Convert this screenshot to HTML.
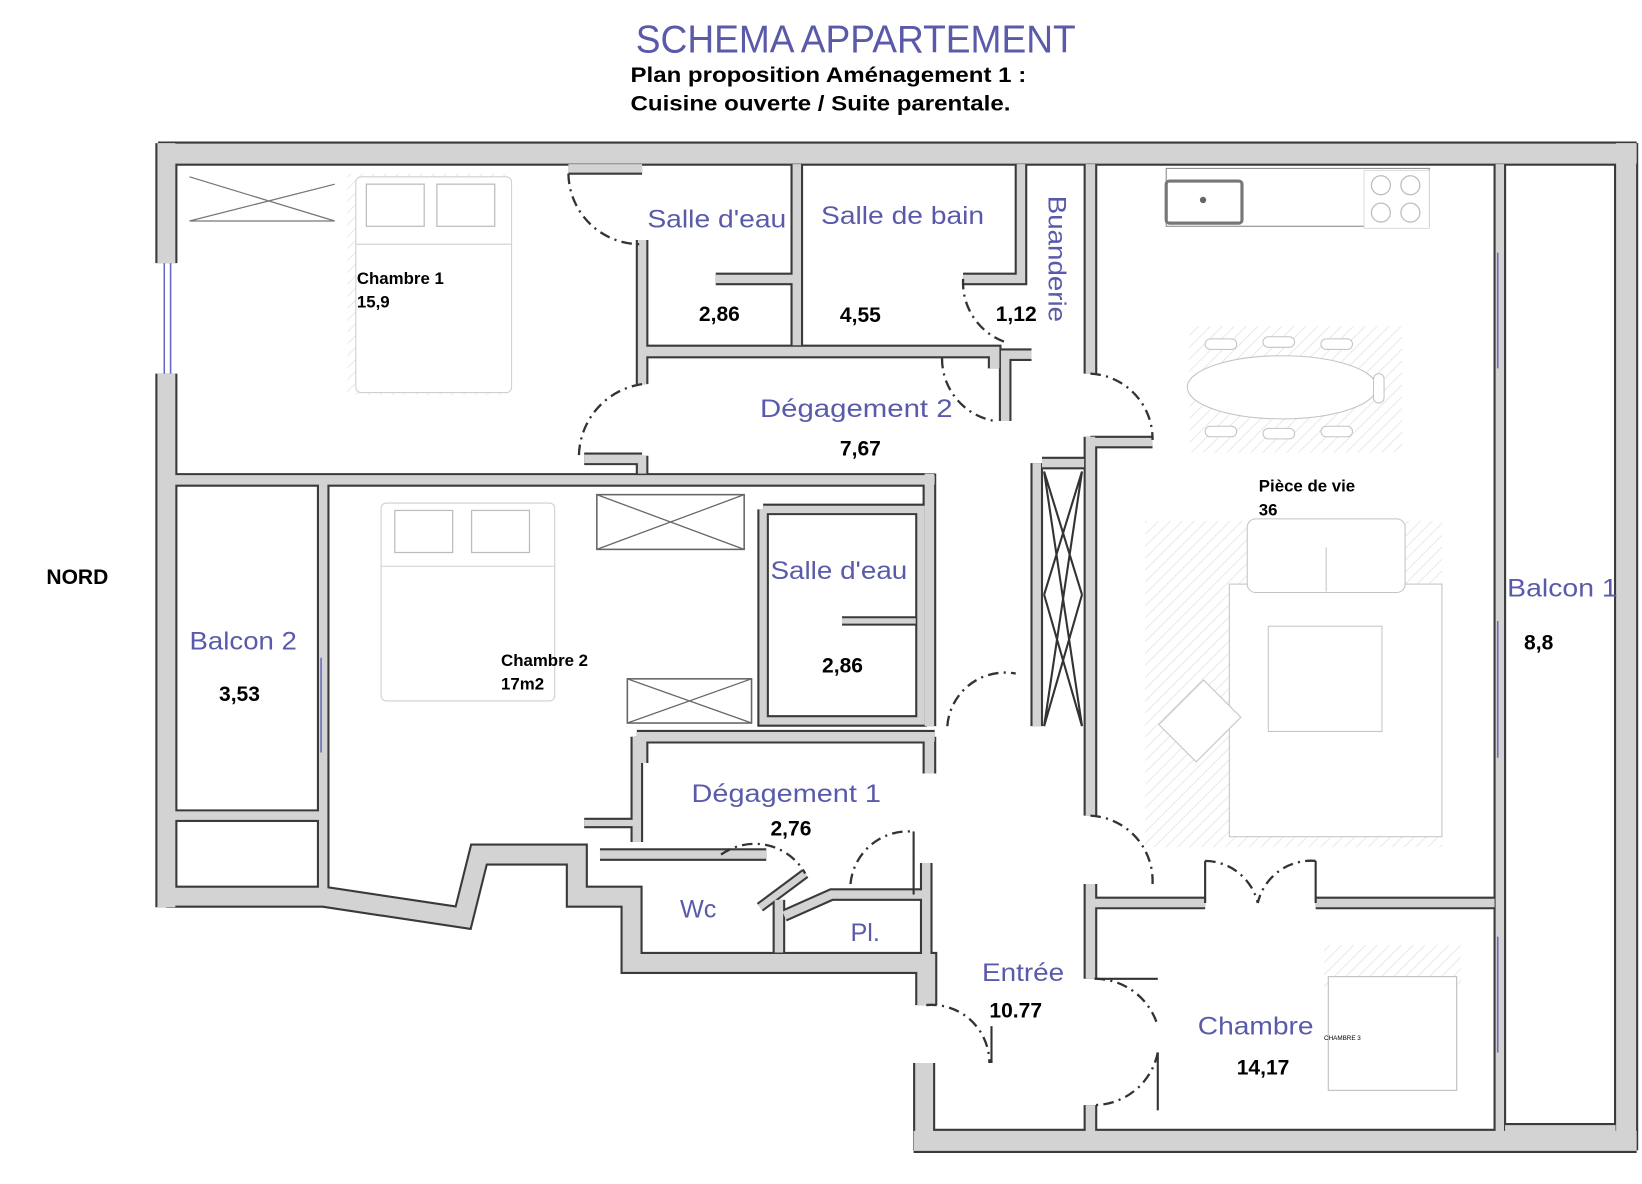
<!DOCTYPE html>
<html><head><meta charset="utf-8"><style>
html,body{margin:0;padding:0;background:#fff;}
svg{display:block;}
text{font-family:"Liberation Sans",Arial,sans-serif;}
.w{fill:none;stroke:#3a3a3a;stroke-linejoin:miter;stroke-linecap:butt;}
.g{fill:none;stroke:#d3d3d3;stroke-linejoin:miter;stroke-linecap:butt;}
.d{fill:none;stroke:#333;stroke-width:2.2;stroke-dasharray:10 5 2 5;}
.f{fill:none;stroke:#bdbdbd;stroke-width:1.2;}
.bl{fill:#5a5aaa;font-size:24px;}
.bk{fill:#000;font-weight:bold;}
</style></head><body>
<svg width="1642" height="1184" viewBox="0 0 1560 1125" xmlns="http://www.w3.org/2000/svg">
<defs>
<pattern id="h" width="8" height="8" patternUnits="userSpaceOnUse" patternTransform="rotate(45)"><line x1="0" y1="0" x2="0" y2="8" stroke="#e2e2e2" stroke-width="1.5"/></pattern>
</defs>
<text x="604" y="50" font-size="37" fill="#5a5aa8" textLength="418" lengthAdjust="spacingAndGlyphs">SCHEMA APPARTEMENT</text>
<text x="599" y="78" class="bk" font-size="20" textLength="376" lengthAdjust="spacingAndGlyphs">Plan proposition Aménagement 1 :</text>
<text x="599" y="105" class="bk" font-size="20" textLength="361" lengthAdjust="spacingAndGlyphs">Cuisine ouverte / Suite parentale.</text>
<text x="44" y="555" class="bk" font-size="20">NORD</text>

<rect x="1130" y="310" width="202" height="120" fill="url(#h)"/>
<rect x="1088" y="495" width="282" height="310" fill="url(#h)"/>
<rect x="1168" y="555" width="202" height="240" fill="#fff" stroke="#c4c4c4"/>
<rect x="1205" y="595" width="108" height="100" fill="#fff" stroke="#c4c4c4"/>
<rect x="1185" y="493" width="150" height="70" rx="8" fill="#fff" stroke="#c4c4c4"/>
<line x1="1260" y1="520" x2="1260" y2="562" stroke="#c4c4c4"/>
<g transform="rotate(-45 1140 685)"><rect x="1110" y="660" width="60" height="50" fill="#fff" stroke="#c4c4c4"/></g>
<ellipse cx="1218" cy="368" rx="90" ry="30" fill="#fff" stroke="#c4c4c4"/>
<g fill="#fff" stroke="#c4c4c4"><rect x="1145" y="322" width="30" height="10" rx="5"/><rect x="1200" y="320" width="30" height="10" rx="5"/><rect x="1255" y="322" width="30" height="10" rx="5"/><rect x="1145" y="405" width="30" height="10" rx="5"/><rect x="1200" y="407" width="30" height="10" rx="5"/><rect x="1255" y="405" width="30" height="10" rx="5"/><rect x="1305" y="355" width="10" height="28" rx="5"/></g>
<rect x="1108" y="160" width="250" height="55" fill="#fff" stroke="#888"/>
<rect x="1108" y="172" width="72" height="40" rx="3" fill="#fff" stroke="#777" stroke-width="3"/>
<circle cx="1143" cy="190" r="3" fill="#666"/>
<rect x="1296" y="162" width="62" height="55" fill="#fff" stroke="#ddd"/>
<circle cx="1312" cy="176" r="9" class="f"/><circle cx="1340" cy="176" r="9" class="f"/>
<circle cx="1312" cy="202" r="9" class="f"/><circle cx="1340" cy="202" r="9" class="f"/>
<rect x="330" y="165" width="155" height="210" fill="url(#h)"/>
<rect x="338" y="168" width="148" height="205" rx="5" fill="#fff" stroke="#cfcfcf"/>
<line x1="338" y1="232" x2="486" y2="232" stroke="#cfcfcf"/>
<rect x="348" y="175" width="55" height="40" class="f"/><rect x="415" y="175" width="55" height="40" class="f"/>
<path d="M180 168 L318 210 M180 210 L318 175 M180 210 L318 210" stroke="#777" stroke-width="1.2" fill="none"/>
<rect x="362" y="478" width="165" height="188" rx="5" fill="#fff" stroke="#cfcfcf"/>
<line x1="362" y1="538" x2="527" y2="538" stroke="#cfcfcf"/>
<rect x="375" y="485" width="55" height="40" class="f"/><rect x="448" y="485" width="55" height="40" class="f"/>
<rect x="567" y="470" width="140" height="52" fill="#fff" stroke="#666" stroke-width="1.5"/>
<path d="M567 470 L707 522 M567 522 L707 470" stroke="#666" stroke-width="1.2"/>
<rect x="596" y="645" width="118" height="42" fill="#fff" stroke="#666" stroke-width="1.5"/>
<path d="M596 645 L714 687 M596 687 L714 645" stroke="#666" stroke-width="1.2"/>
<path d="M992 448 L1028 690 M1028 448 L992 690 M992 448 L1028 565 M1028 448 L992 565 M992 565 L1028 690 M1028 565 L992 690" stroke="#333" stroke-width="2" fill="none"/>
<rect x="1258" y="898" width="130" height="40" fill="url(#h)"/>
<rect x="1262" y="928" width="122" height="108" fill="#fff" stroke="#bbb"/>
<text x="1258" y="988" font-size="6">CHAMBRE 3</text>

<g>
<polyline class="w" stroke-width="23" points="150,146 1555,146"/>
<polyline class="w" stroke-width="21" points="158,136 158,250"/>
<polyline class="w" stroke-width="21" points="158,355 158,862"/>
<polyline class="w" stroke-width="23" points="1545,136 1545,1093"/>
<polyline class="w" stroke-width="23" points="868,1084 1555,1084"/>
<polyline class="w" stroke-width="21" points="878,1010 878,1093"/>
<polyline class="w" stroke-width="21" points="158,852 307,852 440,872 455,812 548,812 548,852 600,852 600,915 880,915 880,955"/>
<polyline class="w" stroke-width="13" points="158,456 888,456"/>
<polyline class="w" stroke-width="12" points="307,456 307,852"/>
<polyline class="w" stroke-width="12" points="158,775 307,775"/>
<polyline class="w" stroke-width="13" points="883,450 883,690"/>
<polyline class="w" stroke-width="13" points="883,700 883,735"/>
<polyline class="w" stroke-width="13" points="605,700 888,700"/>
<polyline class="w" stroke-width="12" points="610,700 610,725"/>
<polyline class="w" stroke-width="11" points="725,484 875,484 875,685 725,685 725,484"/>
<polyline class="w" stroke-width="9" points="800,590 870,590"/>
<polyline class="w" stroke-width="12" points="985,440 985,690"/>
<polyline class="w" stroke-width="12" points="990,440 1030,440"/>
<polyline class="w" stroke-width="12" points="610,228 610,365"/>
<polyline class="w" stroke-width="12" points="610,433 610,450"/>
<polyline class="w" stroke-width="12" points="540,160 610,160"/>
<polyline class="w" stroke-width="12" points="555,436 610,436"/>
<polyline class="w" stroke-width="13" points="610,334 945,334 945,350"/>
<polyline class="w" stroke-width="12" points="757,156 757,328"/>
<polyline class="w" stroke-width="12" points="680,265 757,265"/>
<polyline class="w" stroke-width="12" points="970,156 970,265 915,265"/>
<polyline class="w" stroke-width="12" points="955,400 955,337 980,337"/>
<polyline class="w" stroke-width="13" points="1036,156 1036,355"/>
<polyline class="w" stroke-width="12" points="1036,420 1095,420"/>
<polyline class="w" stroke-width="13" points="1036,415 1036,775"/>
<polyline class="w" stroke-width="13" points="1036,840 1036,930"/>
<polyline class="w" stroke-width="13" points="1036,1050 1036,1080"/>
<polyline class="w" stroke-width="12" points="1036,858 1145,858"/>
<polyline class="w" stroke-width="12" points="1250,858 1420,858"/>
<polyline class="w" stroke-width="12" points="1425,156 1425,1075"/>
<polyline class="w" stroke-width="10" points="1430,1072 1535,1072"/>
<polyline class="w" stroke-width="12" points="605,700 605,800"/>
<polyline class="w" stroke-width="10" points="555,782 605,782"/>
<polyline class="w" stroke-width="12" points="570,812 728,812"/>
<polyline class="w" stroke-width="12" points="740,855 740,905"/>
<polyline class="w" stroke-width="12" points="745,870 790,850 880,850"/>
<polyline class="w" stroke-width="12" points="880,820 880,915"/>
<polyline class="w" stroke-width="10" points="722,862 765,830"/>
</g>
<g>
<polyline class="g" stroke-width="19" points="150,146 1555,146"/>
<polyline class="g" stroke-width="17" points="158,136 158,250"/>
<polyline class="g" stroke-width="17" points="158,355 158,862"/>
<polyline class="g" stroke-width="19" points="1545,136 1545,1093"/>
<polyline class="g" stroke-width="19" points="868,1084 1555,1084"/>
<polyline class="g" stroke-width="17" points="878,1010 878,1093"/>
<polyline class="g" stroke-width="17" points="158,852 307,852 440,872 455,812 548,812 548,852 600,852 600,915 880,915 880,955"/>
<polyline class="g" stroke-width="9" points="158,456 888,456"/>
<polyline class="g" stroke-width="8" points="307,456 307,852"/>
<polyline class="g" stroke-width="8" points="158,775 307,775"/>
<polyline class="g" stroke-width="9" points="883,450 883,690"/>
<polyline class="g" stroke-width="9" points="883,700 883,735"/>
<polyline class="g" stroke-width="9" points="605,700 888,700"/>
<polyline class="g" stroke-width="8" points="610,700 610,725"/>
<polyline class="g" stroke-width="7" points="725,484 875,484 875,685 725,685 725,484"/>
<polyline class="g" stroke-width="5" points="800,590 870,590"/>
<polyline class="g" stroke-width="8" points="985,440 985,690"/>
<polyline class="g" stroke-width="8" points="990,440 1030,440"/>
<polyline class="g" stroke-width="8" points="610,228 610,365"/>
<polyline class="g" stroke-width="8" points="610,433 610,450"/>
<polyline class="g" stroke-width="8" points="540,160 610,160"/>
<polyline class="g" stroke-width="8" points="555,436 610,436"/>
<polyline class="g" stroke-width="9" points="610,334 945,334 945,350"/>
<polyline class="g" stroke-width="8" points="757,156 757,328"/>
<polyline class="g" stroke-width="8" points="680,265 757,265"/>
<polyline class="g" stroke-width="8" points="970,156 970,265 915,265"/>
<polyline class="g" stroke-width="8" points="955,400 955,337 980,337"/>
<polyline class="g" stroke-width="9" points="1036,156 1036,355"/>
<polyline class="g" stroke-width="8" points="1036,420 1095,420"/>
<polyline class="g" stroke-width="9" points="1036,415 1036,775"/>
<polyline class="g" stroke-width="9" points="1036,840 1036,930"/>
<polyline class="g" stroke-width="9" points="1036,1050 1036,1080"/>
<polyline class="g" stroke-width="8" points="1036,858 1145,858"/>
<polyline class="g" stroke-width="8" points="1250,858 1420,858"/>
<polyline class="g" stroke-width="8" points="1425,156 1425,1075"/>
<polyline class="g" stroke-width="6" points="1430,1072 1535,1072"/>
<polyline class="g" stroke-width="8" points="605,700 605,800"/>
<polyline class="g" stroke-width="6" points="555,782 605,782"/>
<polyline class="g" stroke-width="8" points="570,812 728,812"/>
<polyline class="g" stroke-width="8" points="740,855 740,905"/>
<polyline class="g" stroke-width="8" points="745,870 790,850 880,850"/>
<polyline class="g" stroke-width="8" points="880,820 880,915"/>
<polyline class="g" stroke-width="6" points="722,862 765,830"/>
</g>
<g stroke="#6a6ac0" stroke-width="1.5">
<line x1="156" y1="250" x2="156" y2="355"/><line x1="162" y1="250" x2="162" y2="355"/>
<line x1="305" y1="625" x2="305" y2="715"/>
<line x1="1423" y1="240" x2="1423" y2="350"/><line x1="1423" y1="590" x2="1423" y2="720"/><line x1="1423" y1="890" x2="1423" y2="1000"/>
</g>
<path class="d" d="M540 165 A68 68 0 0 0 608 232"/>
<path class="d" d="M610 365 A70 70 0 0 0 550 436"/>
<path class="d" d="M915 265 A60 60 0 0 0 955 325"/>
<path class="d" d="M895 340 A60 60 0 0 0 945 400"/>
<path class="d" d="M1036 355 A62 62 0 0 1 1095 418"/>
<path class="d" d="M1036 775 A62 62 0 0 1 1095 840"/>
<path class="d" d="M1040 930 A62 62 0 0 1 1100 975"/>
<path class="d" d="M1100 1000 A62 62 0 0 1 1040 1050"/>
<line x1="1100" y1="1000" x2="1100" y2="1055" stroke="#333" stroke-width="2"/>
<line x1="1040" y1="930" x2="1100" y2="930" stroke="#333" stroke-width="2"/>
<path class="d" d="M1145 818 A52 52 0 0 1 1195 858"/>
<path class="d" d="M1250 818 A52 52 0 0 0 1195 858"/>
<line x1="1145" y1="818" x2="1145" y2="858" stroke="#333" stroke-width="2"/>
<line x1="1250" y1="818" x2="1250" y2="858" stroke="#333" stroke-width="2"/>
<path class="d" d="M880 955 A55 55 0 0 1 940 1010"/>
<line x1="942" y1="975" x2="942" y2="1010" stroke="#333" stroke-width="2"/>
<path class="d" d="M900 690 A55 55 0 0 1 965 640"/>
<path class="d" d="M685 812 A55 55 0 0 1 765 830"/>
<path class="d" d="M808 840 A55 55 0 0 1 865 790"/>
<line x1="868" y1="790" x2="868" y2="850" stroke="#333" stroke-width="2"/>

<text x="615" y="216" class="bl" textLength="132" lengthAdjust="spacingAndGlyphs">Salle d'eau</text>
<text x="780" y="213" class="bl" textLength="155" lengthAdjust="spacingAndGlyphs">Salle de bain</text>
<text class="bl" transform="translate(996,186) rotate(90)" textLength="120" lengthAdjust="spacingAndGlyphs">Buanderie</text>
<text x="722" y="396" class="bl" textLength="183" lengthAdjust="spacingAndGlyphs">Dégagement 2</text>
<text x="732" y="550" class="bl" textLength="130" lengthAdjust="spacingAndGlyphs">Salle d'eau</text>
<text x="180" y="617" class="bl" textLength="102" lengthAdjust="spacingAndGlyphs">Balcon 2</text>
<text x="657" y="762" class="bl" textLength="180" lengthAdjust="spacingAndGlyphs">Dégagement 1</text>
<text x="646" y="872" class="bl">Wc</text>
<text x="808" y="894" class="bl">Pl.</text>
<text x="933" y="932" class="bl" textLength="78" lengthAdjust="spacingAndGlyphs">Entrée</text>
<text x="1138" y="983" class="bl" textLength="110" lengthAdjust="spacingAndGlyphs">Chambre</text>
<text x="1432" y="567" class="bl" textLength="105" lengthAdjust="spacingAndGlyphs">Balcon 1</text>

<g class="bk" font-size="20">
<text x="664" y="305">2,86</text>
<text x="798" y="306">4,55</text>
<text x="946" y="305">1,12</text>
<text x="798" y="433">7,67</text>
<text x="781" y="639">2,86</text>
<text x="208" y="666">3,53</text>
<text x="732" y="794">2,76</text>
<text x="940" y="967">10.77</text>
<text x="1175" y="1021">14,17</text>
<text x="1448" y="617">8,8</text>
</g>
<g class="bk" font-size="16">
<text x="339" y="270">Chambre 1</text><text x="339" y="292">15,9</text>
<text x="476" y="633">Chambre 2</text><text x="476" y="655">17m2</text>
<text x="1196" y="467">Pièce de vie</text><text x="1196" y="490">36</text>
</g>
</svg>
</body></html>
